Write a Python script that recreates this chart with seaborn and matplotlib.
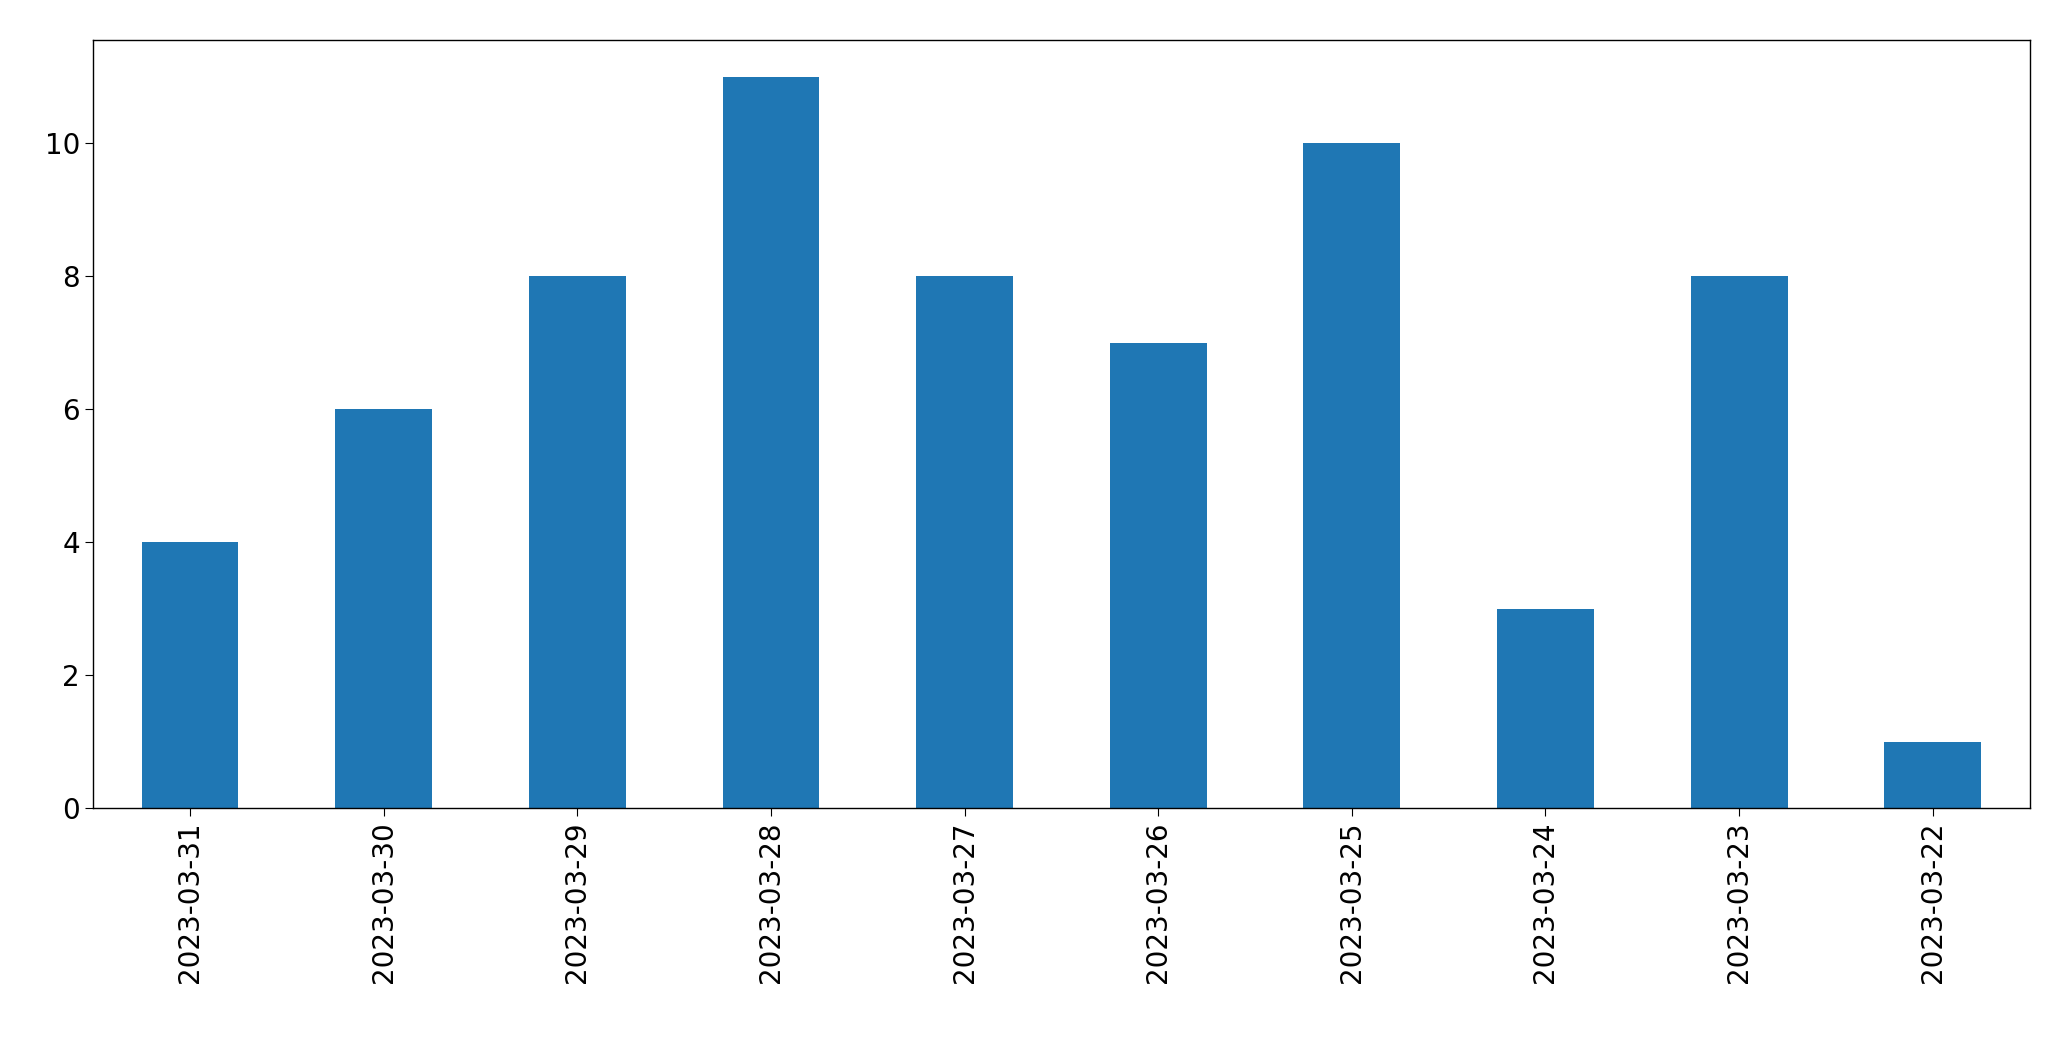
import pandas as pd
import seaborn as sns
import matplotlib.pyplot as plt

dates = ["2023-03-31", "2023-03-30", "2023-03-29", "2023-03-28", "2023-03-27",
         "2023-03-26", "2023-03-25", "2023-03-24", "2023-03-23", "2023-03-22"]
counts = [4, 6, 8, 11, 8, 7, 10, 3, 8, 1]

df = pd.DataFrame({"date": dates, "count": counts})

fig = plt.figure(figsize=(20.71, 10.61), dpi=100)
ax = fig.add_axes([0.045, 0.238, 0.935, 0.724])
sns.barplot(data=df, x="date", y="count", color="#1f77b4", saturation=1,
            width=0.5, ax=ax)
ax.set_xlim(-0.5, len(dates) - 0.5)
ax.set_xlabel("")
ax.set_ylabel("")
ax.tick_params(axis="both", labelsize=20, length=6)
ax.tick_params(axis="x", labelrotation=90)
for s in ax.spines.values():
    s.set_linewidth(1.0)

fig.savefig("out.png", dpi=100)
